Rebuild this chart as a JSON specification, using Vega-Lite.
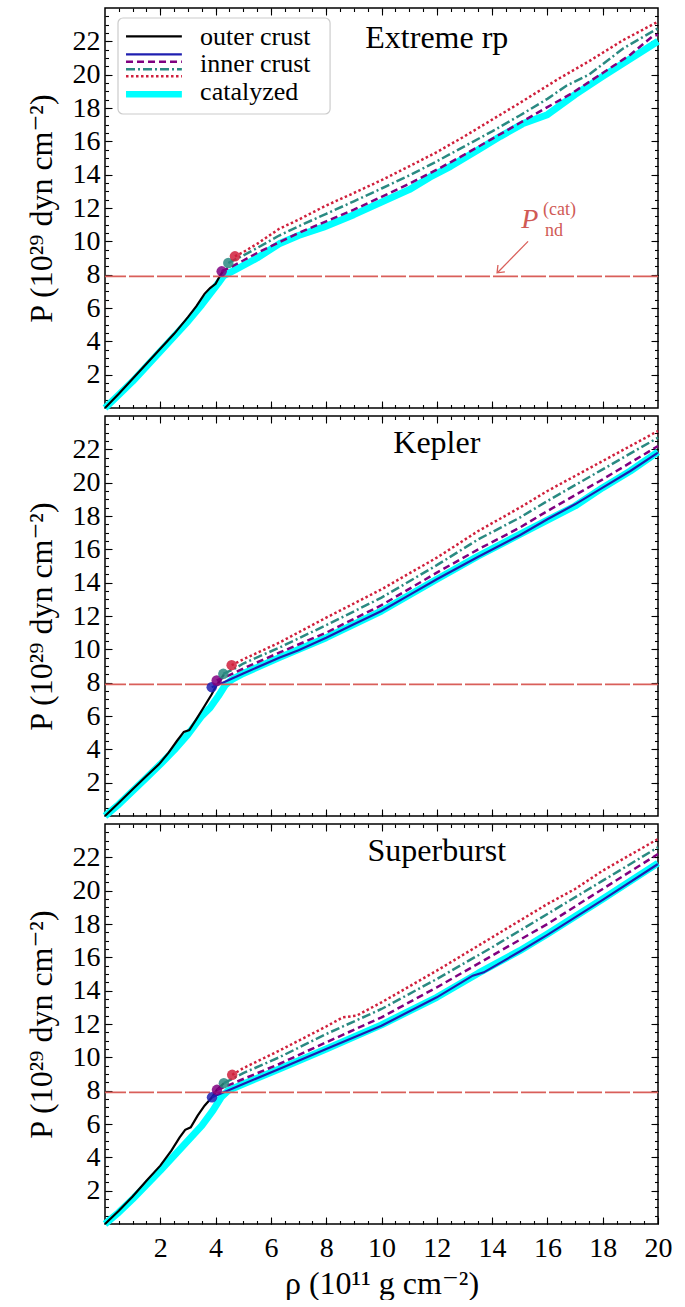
{
"$schema": "https://vega.github.io/schema/vega-lite/v6.json",
"padding": {"left": 24, "top": 6, "right": 18, "bottom": 0},
"spacing": 0,
"datasets": {
"extreme": [
{"curve":"outer crust","rho":0,"P":0},{"curve":"outer crust","rho":0.5,"P":0.85},{"curve":"outer crust","rho":1,"P":1.75},{"curve":"outer crust","rho":1.5,"P":2.65},{"curve":"outer crust","rho":2,"P":3.55},{"curve":"outer crust","rho":2.5,"P":4.45},{"curve":"outer crust","rho":3,"P":5.45},{"curve":"outer crust","rho":3.3,"P":6.1},{"curve":"outer crust","rho":3.6,"P":6.85},{"curve":"outer crust","rho":3.8,"P":7.2},{"curve":"outer crust","rho":4,"P":7.45},{"curve":"outer crust","rho":4.15,"P":7.9},{"curve":"outer crust","rho":4.3,"P":8.3},
{"curve":"catalyzed","rho":0,"P":0},{"curve":"catalyzed","rho":0.5,"P":0.8},{"curve":"catalyzed","rho":1,"P":1.6},{"curve":"catalyzed","rho":1.5,"P":2.5},{"curve":"catalyzed","rho":2,"P":3.4},{"curve":"catalyzed","rho":2.5,"P":4.3},{"curve":"catalyzed","rho":3,"P":5.2},{"curve":"catalyzed","rho":3.5,"P":6.2},{"curve":"catalyzed","rho":3.8,"P":6.85},{"curve":"catalyzed","rho":4.1,"P":7.5},{"curve":"catalyzed","rho":4.3,"P":7.95},{"curve":"catalyzed","rho":4.6,"P":8.2},{"curve":"catalyzed","rho":5,"P":8.55},{"curve":"catalyzed","rho":5.5,"P":9.0},{"curve":"catalyzed","rho":6.3,"P":9.85},{"curve":"catalyzed","rho":7,"P":10.35},{"curve":"catalyzed","rho":7.9,"P":10.85},{"curve":"catalyzed","rho":9,"P":11.6},{"curve":"catalyzed","rho":10,"P":12.35},{"curve":"catalyzed","rho":11,"P":13.1},{"curve":"catalyzed","rho":11.75,"P":13.85},{"curve":"catalyzed","rho":12.5,"P":14.5},{"curve":"catalyzed","rho":13.5,"P":15.5},{"curve":"catalyzed","rho":14.3,"P":16.3},{"curve":"catalyzed","rho":15.1,"P":17.05},{"curve":"catalyzed","rho":16,"P":17.6},{"curve":"catalyzed","rho":17,"P":18.8},{"curve":"catalyzed","rho":18,"P":19.9},{"curve":"catalyzed","rho":18.9,"P":20.85},{"curve":"catalyzed","rho":20,"P":22.0},
{"curve":"inner crust 2","rho":4.22,"P":8.2},{"curve":"inner crust 2","rho":4.6,"P":8.5},{"curve":"inner crust 2","rho":5,"P":8.85},{"curve":"inner crust 2","rho":5.5,"P":9.3},{"curve":"inner crust 2","rho":6.3,"P":9.95},{"curve":"inner crust 2","rho":7,"P":10.5},{"curve":"inner crust 2","rho":8,"P":11.2},{"curve":"inner crust 2","rho":9,"P":11.9},{"curve":"inner crust 2","rho":10,"P":12.67},{"curve":"inner crust 2","rho":11,"P":13.45},{"curve":"inner crust 2","rho":12,"P":14.3},{"curve":"inner crust 2","rho":13,"P":15.2},{"curve":"inner crust 2","rho":14,"P":16.15},{"curve":"inner crust 2","rho":15,"P":17.1},{"curve":"inner crust 2","rho":16,"P":18.05},{"curve":"inner crust 2","rho":16.9,"P":18.9},{"curve":"inner crust 2","rho":18,"P":20.1},{"curve":"inner crust 2","rho":19,"P":21.2},{"curve":"inner crust 2","rho":19.8,"P":22.3},{"curve":"inner crust 2","rho":20,"P":22.4},
{"curve":"inner crust 3","rho":4.46,"P":8.7},{"curve":"inner crust 3","rho":5,"P":9.15},{"curve":"inner crust 3","rho":5.5,"P":9.6},{"curve":"inner crust 3","rho":6.3,"P":10.35},{"curve":"inner crust 3","rho":7,"P":10.9},{"curve":"inner crust 3","rho":8,"P":11.65},{"curve":"inner crust 3","rho":9,"P":12.4},{"curve":"inner crust 3","rho":10,"P":13.17},{"curve":"inner crust 3","rho":11,"P":13.95},{"curve":"inner crust 3","rho":12,"P":14.8},{"curve":"inner crust 3","rho":13,"P":15.7},{"curve":"inner crust 3","rho":14,"P":16.6},{"curve":"inner crust 3","rho":15,"P":17.55},{"curve":"inner crust 3","rho":16,"P":18.55},{"curve":"inner crust 3","rho":16.7,"P":19.35},{"curve":"inner crust 3","rho":17.5,"P":20.0},{"curve":"inner crust 3","rho":18.75,"P":21.58},{"curve":"inner crust 3","rho":20,"P":22.78},
{"curve":"inner crust 4","rho":4.7,"P":9.1},{"curve":"inner crust 4","rho":5,"P":9.35},{"curve":"inner crust 4","rho":5.5,"P":9.85},{"curve":"inner crust 4","rho":6.3,"P":10.75},{"curve":"inner crust 4","rho":7,"P":11.3},{"curve":"inner crust 4","rho":8,"P":12.15},{"curve":"inner crust 4","rho":9,"P":12.9},{"curve":"inner crust 4","rho":10,"P":13.67},{"curve":"inner crust 4","rho":11,"P":14.5},{"curve":"inner crust 4","rho":12,"P":15.35},{"curve":"inner crust 4","rho":13,"P":16.3},{"curve":"inner crust 4","rho":14,"P":17.3},{"curve":"inner crust 4","rho":15,"P":18.3},{"curve":"inner crust 4","rho":16.45,"P":19.8},{"curve":"inner crust 4","rho":17.5,"P":20.8},{"curve":"inner crust 4","rho":18.75,"P":22.08},{"curve":"inner crust 4","rho":20,"P":23.18}
],
"kepler": [
{"curve":"outer crust","rho":0,"P":0},{"curve":"outer crust","rho":0.5,"P":0.8},{"curve":"outer crust","rho":1,"P":1.6},{"curve":"outer crust","rho":1.5,"P":2.4},{"curve":"outer crust","rho":1.95,"P":3.1},{"curve":"outer crust","rho":2.3,"P":3.8},{"curve":"outer crust","rho":2.6,"P":4.5},{"curve":"outer crust","rho":2.85,"P":5.05},{"curve":"outer crust","rho":3.05,"P":5.15},{"curve":"outer crust","rho":3.3,"P":5.8},{"curve":"outer crust","rho":3.6,"P":6.6},{"curve":"outer crust","rho":3.86,"P":7.3},{"curve":"outer crust","rho":4.0,"P":7.75},{"curve":"outer crust","rho":4.15,"P":8.1},{"curve":"outer crust","rho":4.3,"P":8.5},
{"curve":"catalyzed","rho":0,"P":0},{"curve":"catalyzed","rho":0.5,"P":0.7},{"curve":"catalyzed","rho":1,"P":1.5},{"curve":"catalyzed","rho":1.5,"P":2.3},{"curve":"catalyzed","rho":2,"P":3.1},{"curve":"catalyzed","rho":2.5,"P":3.95},{"curve":"catalyzed","rho":3,"P":4.9},{"curve":"catalyzed","rho":3.5,"P":6.0},{"curve":"catalyzed","rho":3.8,"P":6.5},{"curve":"catalyzed","rho":4.1,"P":7.2},{"curve":"catalyzed","rho":4.35,"P":7.85},{"curve":"catalyzed","rho":4.6,"P":8.2},{"curve":"catalyzed","rho":5,"P":8.55},{"curve":"catalyzed","rho":6.3,"P":9.5},{"curve":"catalyzed","rho":8,"P":10.7},{"curve":"catalyzed","rho":10,"P":12.3},{"curve":"catalyzed","rho":12,"P":14.2},{"curve":"catalyzed","rho":13.5,"P":15.6},{"curve":"catalyzed","rho":15,"P":16.9},{"curve":"catalyzed","rho":16,"P":17.75},{"curve":"catalyzed","rho":17,"P":18.6},{"curve":"catalyzed","rho":18,"P":19.7},{"curve":"catalyzed","rho":19,"P":20.7},{"curve":"catalyzed","rho":20,"P":21.85},
{"curve":"inner crust","rho":3.86,"P":7.73},{"curve":"inner crust","rho":4.2,"P":7.95},{"curve":"inner crust","rho":4.6,"P":8.25},{"curve":"inner crust","rho":5,"P":8.55},{"curve":"inner crust","rho":6.3,"P":9.5},{"curve":"inner crust","rho":7,"P":9.95},{"curve":"inner crust","rho":8,"P":10.7},{"curve":"inner crust","rho":9,"P":11.5},{"curve":"inner crust","rho":10,"P":12.3},{"curve":"inner crust","rho":11,"P":13.25},{"curve":"inner crust","rho":12,"P":14.2},{"curve":"inner crust","rho":13.5,"P":15.55},{"curve":"inner crust","rho":15,"P":16.85},{"curve":"inner crust","rho":16,"P":17.8},{"curve":"inner crust","rho":17,"P":18.7},{"curve":"inner crust","rho":18,"P":19.7},{"curve":"inner crust","rho":19,"P":20.7},{"curve":"inner crust","rho":20,"P":21.8},
{"curve":"inner crust 2","rho":4.04,"P":8.13},{"curve":"inner crust 2","rho":4.5,"P":8.45},{"curve":"inner crust 2","rho":5,"P":8.85},{"curve":"inner crust 2","rho":6.3,"P":9.8},{"curve":"inner crust 2","rho":8,"P":11.0},{"curve":"inner crust 2","rho":10,"P":12.65},{"curve":"inner crust 2","rho":12,"P":14.6},{"curve":"inner crust 2","rho":13.5,"P":16.0},{"curve":"inner crust 2","rho":15,"P":17.3},{"curve":"inner crust 2","rho":16,"P":18.3},{"curve":"inner crust 2","rho":18,"P":20.2},{"curve":"inner crust 2","rho":20,"P":22.2},
{"curve":"inner crust 3","rho":4.28,"P":8.53},{"curve":"inner crust 3","rho":4.7,"P":8.85},{"curve":"inner crust 3","rho":5,"P":9.15},{"curve":"inner crust 3","rho":6.3,"P":10.1},{"curve":"inner crust 3","rho":8,"P":11.45},{"curve":"inner crust 3","rho":10,"P":13.1},{"curve":"inner crust 3","rho":12,"P":15.05},{"curve":"inner crust 3","rho":13.5,"P":16.6},{"curve":"inner crust 3","rho":15,"P":17.9},{"curve":"inner crust 3","rho":16,"P":18.9},{"curve":"inner crust 3","rho":18,"P":20.8},{"curve":"inner crust 3","rho":20,"P":22.7},
{"curve":"inner crust 4","rho":4.58,"P":9.05},{"curve":"inner crust 4","rho":5,"P":9.4},{"curve":"inner crust 4","rho":6.3,"P":10.4},{"curve":"inner crust 4","rho":8,"P":11.9},{"curve":"inner crust 4","rho":10,"P":13.6},{"curve":"inner crust 4","rho":12,"P":15.5},{"curve":"inner crust 4","rho":13.5,"P":17.1},{"curve":"inner crust 4","rho":15,"P":18.5},{"curve":"inner crust 4","rho":16,"P":19.5},{"curve":"inner crust 4","rho":17,"P":20.4},{"curve":"inner crust 4","rho":18,"P":21.3},{"curve":"inner crust 4","rho":20,"P":23.1}
],
"superburst": [
{"curve":"outer crust","rho":0,"P":0},{"curve":"outer crust","rho":0.5,"P":0.8},{"curve":"outer crust","rho":1,"P":1.65},{"curve":"outer crust","rho":1.5,"P":2.6},{"curve":"outer crust","rho":2,"P":3.5},{"curve":"outer crust","rho":2.4,"P":4.4},{"curve":"outer crust","rho":2.7,"P":5.2},{"curve":"outer crust","rho":2.9,"P":5.65},{"curve":"outer crust","rho":3.1,"P":5.8},{"curve":"outer crust","rho":3.35,"P":6.5},{"curve":"outer crust","rho":3.6,"P":7.1},{"curve":"outer crust","rho":3.87,"P":7.6},{"curve":"outer crust","rho":4.05,"P":8.05},{"curve":"outer crust","rho":4.3,"P":8.45},
{"curve":"catalyzed","rho":0,"P":0},{"curve":"catalyzed","rho":0.5,"P":0.7},{"curve":"catalyzed","rho":1,"P":1.5},{"curve":"catalyzed","rho":1.5,"P":2.35},{"curve":"catalyzed","rho":2,"P":3.2},{"curve":"catalyzed","rho":2.5,"P":4.1},{"curve":"catalyzed","rho":3,"P":5.0},{"curve":"catalyzed","rho":3.5,"P":5.9},{"curve":"catalyzed","rho":3.9,"P":6.8},{"curve":"catalyzed","rho":4.2,"P":7.6},{"curve":"catalyzed","rho":4.45,"P":8.0},{"curve":"catalyzed","rho":5,"P":8.4},{"curve":"catalyzed","rho":6.3,"P":9.3},{"curve":"catalyzed","rho":8,"P":10.5},{"curve":"catalyzed","rho":10,"P":11.95},{"curve":"catalyzed","rho":12,"P":13.6},{"curve":"catalyzed","rho":13.5,"P":15.05},{"curve":"catalyzed","rho":15,"P":16.4},{"curve":"catalyzed","rho":16,"P":17.4},{"curve":"catalyzed","rho":18,"P":19.5},{"curve":"catalyzed","rho":20,"P":21.65},
{"curve":"inner crust","rho":3.87,"P":7.6},{"curve":"inner crust","rho":4.3,"P":7.9},{"curve":"inner crust","rho":5,"P":8.4},{"curve":"inner crust","rho":6.3,"P":9.3},{"curve":"inner crust","rho":8,"P":10.5},{"curve":"inner crust","rho":10,"P":11.9},{"curve":"inner crust","rho":12,"P":13.6},{"curve":"inner crust","rho":13.3,"P":14.9},{"curve":"inner crust","rho":13.7,"P":15.1},{"curve":"inner crust","rho":15,"P":16.35},{"curve":"inner crust","rho":16,"P":17.35},{"curve":"inner crust","rho":18,"P":19.45},{"curve":"inner crust","rho":20,"P":21.6},
{"curve":"inner crust 2","rho":4.05,"P":8.05},{"curve":"inner crust 2","rho":4.5,"P":8.35},{"curve":"inner crust 2","rho":5,"P":8.7},{"curve":"inner crust 2","rho":6.3,"P":9.6},{"curve":"inner crust 2","rho":8,"P":10.9},{"curve":"inner crust 2","rho":10,"P":12.4},{"curve":"inner crust 2","rho":12,"P":14.2},{"curve":"inner crust 2","rho":14,"P":16.1},{"curve":"inner crust 2","rho":16,"P":18.0},{"curve":"inner crust 2","rho":18,"P":20.1},{"curve":"inner crust 2","rho":20,"P":22.2},
{"curve":"inner crust 3","rho":4.3,"P":8.45},{"curve":"inner crust 3","rho":5,"P":9.05},{"curve":"inner crust 3","rho":6.3,"P":10.0},{"curve":"inner crust 3","rho":8,"P":11.4},{"curve":"inner crust 3","rho":10,"P":12.9},{"curve":"inner crust 3","rho":12,"P":14.7},{"curve":"inner crust 3","rho":14,"P":16.6},{"curve":"inner crust 3","rho":16,"P":18.6},{"curve":"inner crust 3","rho":18,"P":20.6},{"curve":"inner crust 3","rho":20,"P":22.6},
{"curve":"inner crust 4","rho":4.6,"P":8.95},{"curve":"inner crust 4","rho":5,"P":9.35},{"curve":"inner crust 4","rho":6.3,"P":10.4},{"curve":"inner crust 4","rho":8,"P":11.85},{"curve":"inner crust 4","rho":8.6,"P":12.4},{"curve":"inner crust 4","rho":9.1,"P":12.5},{"curve":"inner crust 4","rho":10,"P":13.3},{"curve":"inner crust 4","rho":12,"P":15.2},{"curve":"inner crust 4","rho":14,"P":17.2},{"curve":"inner crust 4","rho":16,"P":19.2},{"curve":"inner crust 4","rho":17,"P":20.1},{"curve":"inner crust 4","rho":18,"P":21.2},{"curve":"inner crust 4","rho":20,"P":23.1}
]
},
"vconcat": [
{
"width": 553, "height": 400,
"data": {"name": "extreme"},
"resolve": {"axis": {"x": "independent", "y": "independent"}},
"layer": [
{"transform": [{"filter": "datum.curve === 'catalyzed'"}],
 "mark": {"type": "line", "strokeWidth": 7, "strokeJoin": "round"},
 "encoding": {
  "x": {"field": "rho", "type": "quantitative", "scale": {"domain": [0, 20], "nice": false}, "axis": {"orient": "bottom", "values": [2,4,6,8,10,12,14,16,18], "tickSize": -7, "labels": false, "title": null}},
  "y": {"field": "P", "type": "quantitative", "scale": {"domain": [0, 24], "nice": false}, "axis": {"orient": "left", "values": [2,4,6,8,10,12,14,16,18,20,22], "tickSize": -7, "labelPadding": 12, "title": "P (10²⁹ dyn cm⁻²)", "titlePadding": 14}},
  "color": {"field": "curve", "type": "nominal", "scale": {"domain": ["outer crust","inner crust","inner crust 2","inner crust 3","inner crust 4","catalyzed"], "range": ["#000000","#1f1fb0","#800080","#2a8a82","#d0203c","#00ffff"]}, "legend": null}
 }},
{"transform": [{"filter": "datum.curve === 'outer crust' || datum.curve === 'inner crust'"}],
 "mark": {"type": "line", "strokeWidth": 2.2},
 "encoding": {
  "x": {"field": "rho", "type": "quantitative", "scale": {"domain": [0, 20], "nice": false}, "axis": {"orient": "bottom", "values": [0.5,1,1.5,2,2.5,3,3.5,4,4.5,5,5.5,6,6.5,7,7.5,8,8.5,9,9.5,10,10.5,11,11.5,12,12.5,13,13.5,14,14.5,15,15.5,16,16.5,17,17.5,18,18.5,19,19.5], "tickSize": -3.5, "labels": false, "title": null}},
  "y": {"field": "P", "type": "quantitative", "scale": {"domain": [0, 24], "nice": false}, "axis": {"orient": "left", "values": [0.5,1,1.5,2,2.5,3,3.5,4,4.5,5,5.5,6,6.5,7,7.5,8,8.5,9,9.5,10,10.5,11,11.5,12,12.5,13,13.5,14,14.5,15,15.5,16,16.5,17,17.5,18,18.5,19,19.5,20,20.5,21,21.5,22,22.5,23,23.5], "tickSize": -3.5, "labels": false, "title": null}},
  "color": {"field": "curve", "type": "nominal", "scale": {"domain": ["outer crust","inner crust","inner crust 2","inner crust 3","inner crust 4","catalyzed"], "range": ["#000000","#1f1fb0","#800080","#2a8a82","#d0203c","#00ffff"]}, "legend": null}
 }},
{"transform": [{"filter": "datum.curve === 'inner crust 2'"}],
 "mark": {"type": "line", "strokeWidth": 2.5, "strokeDash": [7, 4]},
 "encoding": {
  "x": {"field": "rho", "type": "quantitative", "scale": {"domain": [0, 20], "nice": false}, "axis": {"orient": "top", "values": [2,4,6,8,10,12,14,16,18], "tickSize": -7, "labels": false, "title": null}},
  "y": {"field": "P", "type": "quantitative", "scale": {"domain": [0, 24], "nice": false}, "axis": {"orient": "right", "values": [2,4,6,8,10,12,14,16,18,20,22], "tickSize": -7, "labels": false, "title": null}},
  "color": {"field": "curve", "type": "nominal", "scale": {"domain": ["outer crust","inner crust","inner crust 2","inner crust 3","inner crust 4","catalyzed"], "range": ["#000000","#1f1fb0","#800080","#2a8a82","#d0203c","#00ffff"]}, "legend": null}
 }},
{"transform": [{"filter": "datum.curve === 'inner crust 3'"}],
 "mark": {"type": "line", "strokeWidth": 2.5, "strokeDash": [9, 3, 2, 3]},
 "encoding": {
  "x": {"field": "rho", "type": "quantitative", "scale": {"domain": [0, 20], "nice": false}, "axis": {"orient": "top", "values": [0.5,1,1.5,2,2.5,3,3.5,4,4.5,5,5.5,6,6.5,7,7.5,8,8.5,9,9.5,10,10.5,11,11.5,12,12.5,13,13.5,14,14.5,15,15.5,16,16.5,17,17.5,18,18.5,19,19.5], "tickSize": -3.5, "labels": false, "title": null}},
  "y": {"field": "P", "type": "quantitative", "scale": {"domain": [0, 24], "nice": false}, "axis": {"orient": "right", "values": [0.5,1,1.5,2,2.5,3,3.5,4,4.5,5,5.5,6,6.5,7,7.5,8,8.5,9,9.5,10,10.5,11,11.5,12,12.5,13,13.5,14,14.5,15,15.5,16,16.5,17,17.5,18,18.5,19,19.5,20,20.5,21,21.5,22,22.5,23,23.5], "tickSize": -3.5, "labels": false, "title": null}},
  "color": {"field": "curve", "type": "nominal", "scale": {"domain": ["outer crust","inner crust","inner crust 2","inner crust 3","inner crust 4","catalyzed"], "range": ["#000000","#1f1fb0","#800080","#2a8a82","#d0203c","#00ffff"]}, "legend": null}
 }},
{"transform": [{"filter": "datum.curve === 'inner crust 4'"}],
 "mark": {"type": "line", "strokeWidth": 2.5, "strokeDash": [2.5, 2.5]},
 "encoding": {
  "x": {"field": "rho", "type": "quantitative", "scale": {"domain": [0, 20], "nice": false}, "axis": null},
  "y": {"field": "P", "type": "quantitative", "scale": {"domain": [0, 24], "nice": false}, "axis": null},
  "color": {"field": "curve", "type": "nominal", "scale": {"domain": ["outer crust","inner crust","inner crust 2","inner crust 3","inner crust 4","catalyzed"], "range": ["#000000","#1f1fb0","#800080","#2a8a82","#d0203c","#00ffff"]}, "legend": null}
 }},
{"data": {"values": [{}]},
 "mark": {"type": "rule", "color": "#d95f5a", "strokeWidth": 1.6, "strokeDash": [25, 3]},
 "encoding": {"y": {"datum": 7.9, "type": "quantitative", "scale": {"domain": [0, 24], "nice": false}, "axis": null}}},
{"transform": [{"joinaggregate": [{"op": "min", "field": "rho", "as": "rmin"}], "groupby": ["curve"]}, {"filter": "datum.rho === datum.rmin && indexof(datum.curve, 'inner') === 0"}],
 "mark": {"type": "circle", "size": 110, "opacity": 0.85},
 "encoding": {
  "x": {"field": "rho", "type": "quantitative", "scale": {"domain": [0, 20], "nice": false}, "axis": null},
  "y": {"field": "P", "type": "quantitative", "scale": {"domain": [0, 24], "nice": false}, "axis": null},
  "color": {"field": "curve", "type": "nominal", "scale": {"domain": ["outer crust","inner crust","inner crust 2","inner crust 3","inner crust 4","catalyzed"], "range": ["#000000","#1f1fb0","#800080","#2a8a82","#d0203c","#00ffff"]}, "legend": null}
 }},
{"data": {"values": [{}]},
 "mark": {"type": "rule", "color": "#d95f5a", "strokeWidth": 1.3},
 "encoding": {"x": {"datum": 15.3, "type": "quantitative", "scale": {"domain": [0, 20], "nice": false}, "axis": null}, "y": {"datum": 10.0, "type": "quantitative", "scale": {"domain": [0, 24], "nice": false}, "axis": null}, "x2": {"datum": 14.2}, "y2": {"datum": 8.13}}},
{"data": {"values": [{}]},
 "mark": {"type": "point", "shape": "M-1,-0.8L0,0L-1,0.8", "filled": false, "stroke": "#d95f5a", "strokeWidth": 1.3, "angle": 135, "size": 150, "opacity": 1},
 "encoding": {"x": {"datum": 14.18, "type": "quantitative", "scale": {"domain": [0, 20], "nice": false}, "axis": null}, "y": {"datum": 8.11, "type": "quantitative", "scale": {"domain": [0, 24], "nice": false}, "axis": null}}},
{"data": {"values": [{}]},
 "mark": {"type": "text", "text": "P", "fontStyle": "italic", "fontSize": 28, "color": "#d05a55", "align": "left", "baseline": "alphabetic"},
 "encoding": {"x": {"datum": 15.05, "type": "quantitative", "scale": {"domain": [0, 20], "nice": false}, "axis": null}, "y": {"datum": 10.81, "type": "quantitative", "scale": {"domain": [0, 24], "nice": false}, "axis": null}}},
{"data": {"values": [{}]},
 "mark": {"type": "text", "text": "(cat)", "fontSize": 18, "color": "#d05a55", "align": "left", "baseline": "alphabetic"},
 "encoding": {"x": {"datum": 15.84, "type": "quantitative", "scale": {"domain": [0, 20], "nice": false}, "axis": null}, "y": {"datum": 11.6, "type": "quantitative", "scale": {"domain": [0, 24], "nice": false}, "axis": null}}},
{"data": {"values": [{}]},
 "mark": {"type": "text", "text": "nd", "fontSize": 18, "color": "#d05a55", "align": "left", "baseline": "alphabetic"},
 "encoding": {"x": {"datum": 15.91, "type": "quantitative", "scale": {"domain": [0, 20], "nice": false}, "axis": null}, "y": {"datum": 10.33, "type": "quantitative", "scale": {"domain": [0, 24], "nice": false}, "axis": null}}},
{"data": {"values": [{}]},
 "mark": {"type": "text", "text": "Extreme rp", "fontSize": 32, "color": "black", "align": "center", "baseline": "alphabetic"},
 "encoding": {"x": {"datum": 12.0, "type": "quantitative", "scale": {"domain": [0, 20], "nice": false}, "axis": null}, "y": {"datum": 21.6, "type": "quantitative", "scale": {"domain": [0, 24], "nice": false}, "axis": null}}},
{"data": {"values": [{}]},
 "mark": {"type": "rect", "fill": "white", "stroke": "#cccccc", "strokeWidth": 1.2, "cornerRadius": 5},
 "encoding": {"x": {"datum": 0.47, "type": "quantitative", "scale": {"domain": [0, 20], "nice": false}, "axis": null}, "x2": {"datum": 8.14}, "y": {"datum": 23.4, "type": "quantitative", "scale": {"domain": [0, 24], "nice": false}, "axis": null}, "y2": {"datum": 17.64}}},
{"data": {"values": [{}]},
 "mark": {"type": "rule", "color": "#000000", "strokeWidth": 2.2},
 "encoding": {"x": {"datum": 0.76, "type": "quantitative", "scale": {"domain": [0, 20], "nice": false}, "axis": null}, "x2": {"datum": 2.78}, "y": {"datum": 22.3, "type": "quantitative", "scale": {"domain": [0, 24], "nice": false}, "axis": null}}},
{"data": {"values": [{}]},
 "mark": {"type": "rule", "color": "#1f1fb0", "strokeWidth": 2.2},
 "encoding": {"x": {"datum": 0.76, "type": "quantitative", "scale": {"domain": [0, 20], "nice": false}, "axis": null}, "x2": {"datum": 2.78}, "y": {"datum": 21.22, "type": "quantitative", "scale": {"domain": [0, 24], "nice": false}, "axis": null}}},
{"data": {"values": [{}]},
 "mark": {"type": "rule", "color": "#800080", "strokeWidth": 2.5, "strokeDash": [7, 4]},
 "encoding": {"x": {"datum": 0.76, "type": "quantitative", "scale": {"domain": [0, 20], "nice": false}, "axis": null}, "x2": {"datum": 2.78}, "y": {"datum": 20.78, "type": "quantitative", "scale": {"domain": [0, 24], "nice": false}, "axis": null}}},
{"data": {"values": [{}]},
 "mark": {"type": "rule", "color": "#2a8a82", "strokeWidth": 2.5, "strokeDash": [9, 3, 2, 3]},
 "encoding": {"x": {"datum": 0.76, "type": "quantitative", "scale": {"domain": [0, 20], "nice": false}, "axis": null}, "x2": {"datum": 2.78}, "y": {"datum": 20.32, "type": "quantitative", "scale": {"domain": [0, 24], "nice": false}, "axis": null}}},
{"data": {"values": [{}]},
 "mark": {"type": "rule", "color": "#d0203c", "strokeWidth": 2.5, "strokeDash": [2.5, 2.5]},
 "encoding": {"x": {"datum": 0.76, "type": "quantitative", "scale": {"domain": [0, 20], "nice": false}, "axis": null}, "x2": {"datum": 2.78}, "y": {"datum": 19.9, "type": "quantitative", "scale": {"domain": [0, 24], "nice": false}, "axis": null}}},
{"data": {"values": [{}]},
 "mark": {"type": "rule", "color": "#00ffff", "strokeWidth": 6.5},
 "encoding": {"x": {"datum": 0.76, "type": "quantitative", "scale": {"domain": [0, 20], "nice": false}, "axis": null}, "x2": {"datum": 2.78}, "y": {"datum": 18.82, "type": "quantitative", "scale": {"domain": [0, 24], "nice": false}, "axis": null}}},
{"data": {"values": [{}]},
 "mark": {"type": "text", "text": "outer crust", "fontSize": 26, "color": "black", "align": "left", "baseline": "middle"},
 "encoding": {"x": {"datum": 3.44, "type": "quantitative", "scale": {"domain": [0, 20], "nice": false}, "axis": null}, "y": {"datum": 22.26, "type": "quantitative", "scale": {"domain": [0, 24], "nice": false}, "axis": null}}},
{"data": {"values": [{}]},
 "mark": {"type": "text", "text": "inner crust", "fontSize": 26, "color": "black", "align": "left", "baseline": "middle"},
 "encoding": {"x": {"datum": 3.44, "type": "quantitative", "scale": {"domain": [0, 20], "nice": false}, "axis": null}, "y": {"datum": 20.62, "type": "quantitative", "scale": {"domain": [0, 24], "nice": false}, "axis": null}}},
{"data": {"values": [{}]},
 "mark": {"type": "text", "text": "catalyzed", "fontSize": 26, "color": "black", "align": "left", "baseline": "middle"},
 "encoding": {"x": {"datum": 3.44, "type": "quantitative", "scale": {"domain": [0, 20], "nice": false}, "axis": null}, "y": {"datum": 18.96, "type": "quantitative", "scale": {"domain": [0, 24], "nice": false}, "axis": null}}}
]
},
{
"width": 553, "height": 400,
"data": {"name": "kepler"},
"resolve": {"axis": {"x": "independent", "y": "independent"}},
"layer": [
{"transform": [{"filter": "datum.curve === 'catalyzed'"}],
 "mark": {"type": "line", "strokeWidth": 7, "strokeJoin": "round"},
 "encoding": {
  "x": {"field": "rho", "type": "quantitative", "scale": {"domain": [0, 20], "nice": false}, "axis": {"orient": "bottom", "values": [2,4,6,8,10,12,14,16,18], "tickSize": -7, "labels": false, "title": null}},
  "y": {"field": "P", "type": "quantitative", "scale": {"domain": [0, 24], "nice": false}, "axis": {"orient": "left", "values": [2,4,6,8,10,12,14,16,18,20,22], "tickSize": -7, "labelPadding": 12, "title": "P (10²⁹ dyn cm⁻²)", "titlePadding": 14}},
  "color": {"field": "curve", "type": "nominal", "scale": {"domain": ["outer crust","inner crust","inner crust 2","inner crust 3","inner crust 4","catalyzed"], "range": ["#000000","#1f1fb0","#800080","#2a8a82","#d0203c","#00ffff"]}, "legend": null}
 }},
{"transform": [{"filter": "datum.curve === 'outer crust' || datum.curve === 'inner crust'"}],
 "mark": {"type": "line", "strokeWidth": 2.2},
 "encoding": {
  "x": {"field": "rho", "type": "quantitative", "scale": {"domain": [0, 20], "nice": false}, "axis": {"orient": "bottom", "values": [0.5,1,1.5,2,2.5,3,3.5,4,4.5,5,5.5,6,6.5,7,7.5,8,8.5,9,9.5,10,10.5,11,11.5,12,12.5,13,13.5,14,14.5,15,15.5,16,16.5,17,17.5,18,18.5,19,19.5], "tickSize": -3.5, "labels": false, "title": null}},
  "y": {"field": "P", "type": "quantitative", "scale": {"domain": [0, 24], "nice": false}, "axis": {"orient": "left", "values": [0.5,1,1.5,2,2.5,3,3.5,4,4.5,5,5.5,6,6.5,7,7.5,8,8.5,9,9.5,10,10.5,11,11.5,12,12.5,13,13.5,14,14.5,15,15.5,16,16.5,17,17.5,18,18.5,19,19.5,20,20.5,21,21.5,22,22.5,23,23.5], "tickSize": -3.5, "labels": false, "title": null}},
  "color": {"field": "curve", "type": "nominal", "scale": {"domain": ["outer crust","inner crust","inner crust 2","inner crust 3","inner crust 4","catalyzed"], "range": ["#000000","#1f1fb0","#800080","#2a8a82","#d0203c","#00ffff"]}, "legend": null}
 }},
{"transform": [{"filter": "datum.curve === 'inner crust 2'"}],
 "mark": {"type": "line", "strokeWidth": 2.5, "strokeDash": [7, 4]},
 "encoding": {
  "x": {"field": "rho", "type": "quantitative", "scale": {"domain": [0, 20], "nice": false}, "axis": {"orient": "top", "values": [2,4,6,8,10,12,14,16,18], "tickSize": -7, "labels": false, "title": null}},
  "y": {"field": "P", "type": "quantitative", "scale": {"domain": [0, 24], "nice": false}, "axis": {"orient": "right", "values": [2,4,6,8,10,12,14,16,18,20,22], "tickSize": -7, "labels": false, "title": null}},
  "color": {"field": "curve", "type": "nominal", "scale": {"domain": ["outer crust","inner crust","inner crust 2","inner crust 3","inner crust 4","catalyzed"], "range": ["#000000","#1f1fb0","#800080","#2a8a82","#d0203c","#00ffff"]}, "legend": null}
 }},
{"transform": [{"filter": "datum.curve === 'inner crust 3'"}],
 "mark": {"type": "line", "strokeWidth": 2.5, "strokeDash": [9, 3, 2, 3]},
 "encoding": {
  "x": {"field": "rho", "type": "quantitative", "scale": {"domain": [0, 20], "nice": false}, "axis": {"orient": "top", "values": [0.5,1,1.5,2,2.5,3,3.5,4,4.5,5,5.5,6,6.5,7,7.5,8,8.5,9,9.5,10,10.5,11,11.5,12,12.5,13,13.5,14,14.5,15,15.5,16,16.5,17,17.5,18,18.5,19,19.5], "tickSize": -3.5, "labels": false, "title": null}},
  "y": {"field": "P", "type": "quantitative", "scale": {"domain": [0, 24], "nice": false}, "axis": {"orient": "right", "values": [0.5,1,1.5,2,2.5,3,3.5,4,4.5,5,5.5,6,6.5,7,7.5,8,8.5,9,9.5,10,10.5,11,11.5,12,12.5,13,13.5,14,14.5,15,15.5,16,16.5,17,17.5,18,18.5,19,19.5,20,20.5,21,21.5,22,22.5,23,23.5], "tickSize": -3.5, "labels": false, "title": null}},
  "color": {"field": "curve", "type": "nominal", "scale": {"domain": ["outer crust","inner crust","inner crust 2","inner crust 3","inner crust 4","catalyzed"], "range": ["#000000","#1f1fb0","#800080","#2a8a82","#d0203c","#00ffff"]}, "legend": null}
 }},
{"transform": [{"filter": "datum.curve === 'inner crust 4'"}],
 "mark": {"type": "line", "strokeWidth": 2.5, "strokeDash": [2.5, 2.5]},
 "encoding": {
  "x": {"field": "rho", "type": "quantitative", "scale": {"domain": [0, 20], "nice": false}, "axis": null},
  "y": {"field": "P", "type": "quantitative", "scale": {"domain": [0, 24], "nice": false}, "axis": null},
  "color": {"field": "curve", "type": "nominal", "scale": {"domain": ["outer crust","inner crust","inner crust 2","inner crust 3","inner crust 4","catalyzed"], "range": ["#000000","#1f1fb0","#800080","#2a8a82","#d0203c","#00ffff"]}, "legend": null}
 }},
{"data": {"values": [{}]},
 "mark": {"type": "rule", "color": "#d95f5a", "strokeWidth": 1.6, "strokeDash": [25, 3]},
 "encoding": {"y": {"datum": 7.9, "type": "quantitative", "scale": {"domain": [0, 24], "nice": false}, "axis": null}}},
{"transform": [{"joinaggregate": [{"op": "min", "field": "rho", "as": "rmin"}], "groupby": ["curve"]}, {"filter": "datum.rho === datum.rmin && indexof(datum.curve, 'inner') === 0"}],
 "mark": {"type": "circle", "size": 110, "opacity": 0.85},
 "encoding": {
  "x": {"field": "rho", "type": "quantitative", "scale": {"domain": [0, 20], "nice": false}, "axis": null},
  "y": {"field": "P", "type": "quantitative", "scale": {"domain": [0, 24], "nice": false}, "axis": null},
  "color": {"field": "curve", "type": "nominal", "scale": {"domain": ["outer crust","inner crust","inner crust 2","inner crust 3","inner crust 4","catalyzed"], "range": ["#000000","#1f1fb0","#800080","#2a8a82","#d0203c","#00ffff"]}, "legend": null}
 }},
{"data": {"values": [{}]},
 "mark": {"type": "text", "text": "Kepler", "fontSize": 32, "color": "black", "align": "center", "baseline": "alphabetic"},
 "encoding": {"x": {"datum": 12.0, "type": "quantitative", "scale": {"domain": [0, 20], "nice": false}, "axis": null}, "y": {"datum": 21.8, "type": "quantitative", "scale": {"domain": [0, 24], "nice": false}, "axis": null}}}
]
},
{
"width": 553, "height": 400,
"data": {"name": "superburst"},
"resolve": {"axis": {"x": "independent", "y": "independent"}},
"layer": [
{"transform": [{"filter": "datum.curve === 'catalyzed'"}],
 "mark": {"type": "line", "strokeWidth": 7, "strokeJoin": "round"},
 "encoding": {
  "x": {"field": "rho", "type": "quantitative", "scale": {"domain": [0, 20], "nice": false}, "axis": {"orient": "bottom", "values": [2,4,6,8,10,12,14,16,18,20], "tickSize": -7, "labelPadding": 17, "labelFlush": false, "labelOverlap": false, "labelBound": false, "title": "ρ (10¹¹ g cm⁻²)", "titlePadding": 6}},
  "y": {"field": "P", "type": "quantitative", "scale": {"domain": [0, 24], "nice": false}, "axis": {"orient": "left", "values": [2,4,6,8,10,12,14,16,18,20,22], "tickSize": -7, "labelPadding": 12, "title": "P (10²⁹ dyn cm⁻²)", "titlePadding": 14}},
  "color": {"field": "curve", "type": "nominal", "scale": {"domain": ["outer crust","inner crust","inner crust 2","inner crust 3","inner crust 4","catalyzed"], "range": ["#000000","#1f1fb0","#800080","#2a8a82","#d0203c","#00ffff"]}, "legend": null}
 }},
{"transform": [{"filter": "datum.curve === 'outer crust' || datum.curve === 'inner crust'"}],
 "mark": {"type": "line", "strokeWidth": 2.2},
 "encoding": {
  "x": {"field": "rho", "type": "quantitative", "scale": {"domain": [0, 20], "nice": false}, "axis": {"orient": "bottom", "values": [0.5,1,1.5,2,2.5,3,3.5,4,4.5,5,5.5,6,6.5,7,7.5,8,8.5,9,9.5,10,10.5,11,11.5,12,12.5,13,13.5,14,14.5,15,15.5,16,16.5,17,17.5,18,18.5,19,19.5], "tickSize": -3.5, "labels": false, "title": null}},
  "y": {"field": "P", "type": "quantitative", "scale": {"domain": [0, 24], "nice": false}, "axis": {"orient": "left", "values": [0.5,1,1.5,2,2.5,3,3.5,4,4.5,5,5.5,6,6.5,7,7.5,8,8.5,9,9.5,10,10.5,11,11.5,12,12.5,13,13.5,14,14.5,15,15.5,16,16.5,17,17.5,18,18.5,19,19.5,20,20.5,21,21.5,22,22.5,23,23.5], "tickSize": -3.5, "labels": false, "title": null}},
  "color": {"field": "curve", "type": "nominal", "scale": {"domain": ["outer crust","inner crust","inner crust 2","inner crust 3","inner crust 4","catalyzed"], "range": ["#000000","#1f1fb0","#800080","#2a8a82","#d0203c","#00ffff"]}, "legend": null}
 }},
{"transform": [{"filter": "datum.curve === 'inner crust 2'"}],
 "mark": {"type": "line", "strokeWidth": 2.5, "strokeDash": [7, 4]},
 "encoding": {
  "x": {"field": "rho", "type": "quantitative", "scale": {"domain": [0, 20], "nice": false}, "axis": {"orient": "top", "values": [2,4,6,8,10,12,14,16,18], "tickSize": -7, "labels": false, "title": null}},
  "y": {"field": "P", "type": "quantitative", "scale": {"domain": [0, 24], "nice": false}, "axis": {"orient": "right", "values": [2,4,6,8,10,12,14,16,18,20,22], "tickSize": -7, "labels": false, "title": null}},
  "color": {"field": "curve", "type": "nominal", "scale": {"domain": ["outer crust","inner crust","inner crust 2","inner crust 3","inner crust 4","catalyzed"], "range": ["#000000","#1f1fb0","#800080","#2a8a82","#d0203c","#00ffff"]}, "legend": null}
 }},
{"transform": [{"filter": "datum.curve === 'inner crust 3'"}],
 "mark": {"type": "line", "strokeWidth": 2.5, "strokeDash": [9, 3, 2, 3]},
 "encoding": {
  "x": {"field": "rho", "type": "quantitative", "scale": {"domain": [0, 20], "nice": false}, "axis": {"orient": "top", "values": [0.5,1,1.5,2,2.5,3,3.5,4,4.5,5,5.5,6,6.5,7,7.5,8,8.5,9,9.5,10,10.5,11,11.5,12,12.5,13,13.5,14,14.5,15,15.5,16,16.5,17,17.5,18,18.5,19,19.5], "tickSize": -3.5, "labels": false, "title": null}},
  "y": {"field": "P", "type": "quantitative", "scale": {"domain": [0, 24], "nice": false}, "axis": {"orient": "right", "values": [0.5,1,1.5,2,2.5,3,3.5,4,4.5,5,5.5,6,6.5,7,7.5,8,8.5,9,9.5,10,10.5,11,11.5,12,12.5,13,13.5,14,14.5,15,15.5,16,16.5,17,17.5,18,18.5,19,19.5,20,20.5,21,21.5,22,22.5,23,23.5], "tickSize": -3.5, "labels": false, "title": null}},
  "color": {"field": "curve", "type": "nominal", "scale": {"domain": ["outer crust","inner crust","inner crust 2","inner crust 3","inner crust 4","catalyzed"], "range": ["#000000","#1f1fb0","#800080","#2a8a82","#d0203c","#00ffff"]}, "legend": null}
 }},
{"transform": [{"filter": "datum.curve === 'inner crust 4'"}],
 "mark": {"type": "line", "strokeWidth": 2.5, "strokeDash": [2.5, 2.5]},
 "encoding": {
  "x": {"field": "rho", "type": "quantitative", "scale": {"domain": [0, 20], "nice": false}, "axis": null},
  "y": {"field": "P", "type": "quantitative", "scale": {"domain": [0, 24], "nice": false}, "axis": null},
  "color": {"field": "curve", "type": "nominal", "scale": {"domain": ["outer crust","inner crust","inner crust 2","inner crust 3","inner crust 4","catalyzed"], "range": ["#000000","#1f1fb0","#800080","#2a8a82","#d0203c","#00ffff"]}, "legend": null}
 }},
{"data": {"values": [{}]},
 "mark": {"type": "rule", "color": "#d95f5a", "strokeWidth": 1.6, "strokeDash": [25, 3]},
 "encoding": {"y": {"datum": 7.9, "type": "quantitative", "scale": {"domain": [0, 24], "nice": false}, "axis": null}}},
{"transform": [{"joinaggregate": [{"op": "min", "field": "rho", "as": "rmin"}], "groupby": ["curve"]}, {"filter": "datum.rho === datum.rmin && indexof(datum.curve, 'inner') === 0"}],
 "mark": {"type": "circle", "size": 110, "opacity": 0.85},
 "encoding": {
  "x": {"field": "rho", "type": "quantitative", "scale": {"domain": [0, 20], "nice": false}, "axis": null},
  "y": {"field": "P", "type": "quantitative", "scale": {"domain": [0, 24], "nice": false}, "axis": null},
  "color": {"field": "curve", "type": "nominal", "scale": {"domain": ["outer crust","inner crust","inner crust 2","inner crust 3","inner crust 4","catalyzed"], "range": ["#000000","#1f1fb0","#800080","#2a8a82","#d0203c","#00ffff"]}, "legend": null}
 }},
{"data": {"values": [{}]},
 "mark": {"type": "text", "text": "Superburst", "fontSize": 32, "color": "black", "align": "center", "baseline": "alphabetic"},
 "encoding": {"x": {"datum": 12.0, "type": "quantitative", "scale": {"domain": [0, 20], "nice": false}, "axis": null}, "y": {"datum": 21.8, "type": "quantitative", "scale": {"domain": [0, 24], "nice": false}, "axis": null}}}
]
}
],
"config": {
 "view": {"stroke": "black", "strokeWidth": 1.5},
 "font": "Liberation Serif, DejaVu Serif, serif",
 "text": {"font": "Liberation Serif, DejaVu Serif, serif"},
 "axis": {"domain": false, "grid": false, "tickColor": "black", "tickWidth": 1.1, "labelColor": "black", "titleColor": "black", "labelFont": "Liberation Serif, DejaVu Serif, serif", "titleFont": "Liberation Serif, DejaVu Serif, serif", "titleFontWeight": "normal", "labelFontSize": 28, "titleFontSize": 32}
}
}
